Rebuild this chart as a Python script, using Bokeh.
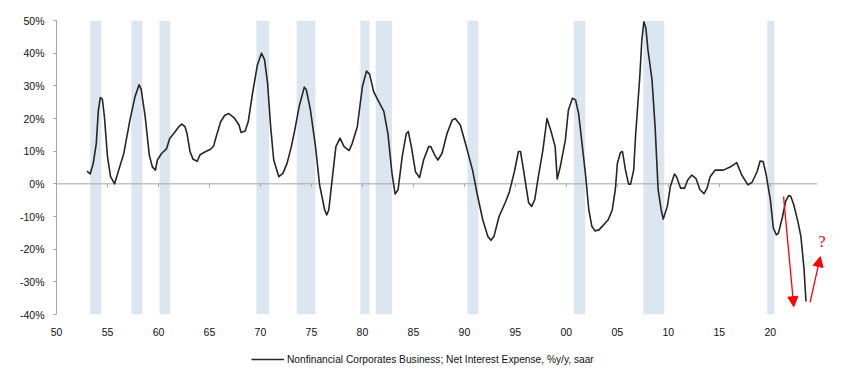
from bokeh.plotting import figure
from bokeh.layouts import column
from bokeh.models import (Range1d, FixedTicker, Legend, LegendItem, Arrow,
                          NormalHead, Label)
from bokeh.embed import file_html
from bokeh.resources import INLINE

# ---------------- data ----------------
years = [1953.0, 1953.3, 1953.6, 1953.9, 1954.1, 1954.3, 1954.5, 1954.7, 1955.0, 1955.3,
         1955.7, 1956.1, 1956.6, 1957.2, 1957.7, 1958.1, 1958.3, 1958.7, 1959.1, 1959.4,
         1959.7, 1959.9, 1960.3, 1960.8, 1961.1, 1961.5, 1962.0, 1962.3, 1962.6, 1962.8,
         1963.1, 1963.4, 1963.8, 1964.1, 1964.6, 1965.1, 1965.4, 1965.7, 1966.1, 1966.5,
         1966.9, 1967.4, 1967.9, 1968.1, 1968.5, 1968.8, 1969.2, 1969.7, 1970.1, 1970.4,
         1970.7, 1971.0, 1971.3, 1971.8, 1972.2, 1972.6, 1973.0, 1973.3, 1973.8, 1974.3,
         1974.5, 1974.9, 1975.4, 1975.8, 1976.3, 1976.5, 1976.7, 1977.1, 1977.4, 1977.8,
         1978.2, 1978.7, 1979.0, 1979.5, 1980.0, 1980.4, 1980.7, 1981.1, 1981.6, 1982.1,
         1982.5, 1982.9, 1983.2, 1983.5, 1983.9, 1984.3, 1984.5, 1984.8, 1985.2, 1985.6,
         1986.0, 1986.5, 1986.7, 1987.1, 1987.4, 1987.8, 1988.3, 1988.8, 1989.1, 1989.6,
         1990.1, 1990.8, 1991.3, 1991.8, 1992.3, 1992.6, 1992.9, 1993.4, 1994.0, 1994.4,
         1994.9, 1995.3, 1995.5, 1995.8, 1996.3, 1996.6, 1996.9, 1997.2, 1997.7, 1998.1,
         1998.5, 1998.9, 1999.1, 1999.4, 1999.9, 2000.2, 2000.6, 2000.9, 2001.2, 2001.5,
         2001.9, 2002.2, 2002.5, 2002.8, 2003.2, 2003.4, 2003.7, 2004.1, 2004.5, 2004.8,
         2005.0, 2005.3, 2005.5, 2005.8, 2006.1, 2006.3, 2006.6, 2006.8, 2007.2, 2007.4,
         2007.6, 2007.8, 2008.0, 2008.4, 2008.7, 2009.0, 2009.3, 2009.5, 2009.9, 2010.2,
         2010.6, 2010.8, 2011.2, 2011.6, 2011.9, 2012.3, 2012.7, 2013.1, 2013.5, 2013.8,
         2014.1, 2014.6, 2015.4, 2016.1, 2016.7, 2017.2, 2017.8, 2018.2, 2018.7, 2019.0,
         2019.3, 2019.6, 2020.0, 2020.3, 2020.6, 2020.8, 2021.2, 2021.5, 2021.8, 2022.0,
         2022.3, 2022.7, 2023.0, 2023.3, 2023.5]
values = [3.9, 3.0, 6.2, 12.3, 22.4, 26.4, 25.9, 20.5, 8.3, 2.2,
          0.0, 4.2, 9.3, 19.5, 26.7, 30.3, 29.0, 20.5, 8.8, 5.2,
          4.2, 7.3, 9.3, 10.8, 13.9, 15.4, 17.5, 18.3, 17.5, 15.4,
          9.8, 7.5, 6.9, 9.0, 9.8, 10.6, 11.5, 14.9, 19.0, 21.0,
          21.5, 20.3, 18.0, 15.7, 16.2, 19.0, 27.2, 36.4, 40.0, 38.0,
          30.8, 17.5, 7.3, 2.2, 3.2, 6.2, 11.0, 15.4, 23.7, 29.6,
          28.8, 22.6, 11.4, -0.3, -8.0, -9.5, -8.0, 3.2, 11.4, 14.0,
          11.4, 10.2, 12.4, 17.5, 29.8, 34.5, 33.6, 28.2, 25.2, 22.2,
          15.4, 3.2, -3.1, -1.8, 8.3, 15.4, 16.0, 11.4, 3.7, 1.9,
          7.3, 11.4, 11.4, 8.8, 7.3, 9.3, 15.4, 19.5, 20.0, 18.0,
          12.4, 4.2, -3.8, -11.0, -16.1, -17.3, -16.1, -10.0, -5.8, -2.6,
          3.7, 9.9, 9.9, 4.2, -5.8, -6.9, -4.8, 1.2, 10.4, 20.0,
          16.0, 11.4, 1.5, 5.2, 13.4, 22.6, 26.2, 25.7, 21.5, 13.4,
          2.2, -8.0, -13.0, -14.4, -14.1, -13.4, -12.4, -11.0, -8.0, -1.8,
          6.2, 9.6, 9.9, 4.2, -0.1, -0.1, 4.2, 15.4, 32.8, 44.0,
          49.6, 47.6, 41.0, 31.8, 17.5, -1.8, -8.0, -10.8, -6.9, -0.8,
          3.0, 2.2, -1.3, -1.3, 1.2, 2.7, 1.7, -1.8, -3.0, -1.3,
          2.2, 4.2, 4.2, 5.2, 6.5, 2.7, -0.3, 0.4, 3.7, 7.0,
          6.8, 2.7, -4.8, -13.6, -15.6, -15.1, -10.0, -5.4, -3.6, -3.8,
          -6.4, -11.5, -16.1, -25.8, -36.0]

rec_start = [1953.3, 1957.35, 1960.1, 1969.6, 1973.55, 1979.8, 1981.3, 1990.3, 2000.75, 2007.55, 2019.7]
rec_end = [1954.4, 1958.43, 1961.15, 1970.85, 1975.4, 1980.7, 1982.9, 1991.37, 2001.85, 2009.6, 2020.4]

x_ticks = [1950, 1955, 1960, 1965, 1970, 1975, 1980, 1985, 1990, 1995, 2000, 2005, 2010, 2015, 2020]
x_tick_labels = ["50", "55", "60", "65", "70", "75", "80", "85", "90", "95", "00", "05", "10", "15", "20"]
y_ticks = [-40, -30, -20, -10, 0, 10, 20, 30, 40, 50]
y_tick_labels = ["-40%", "-30%", "-20%", "-10%", "0%", "10%", "20%", "30%", "40%", "50%"]

series_name = "Nonfinancial Corporates Business; Net Interest Expense, %y/y, saar"
x_start, x_end = 1950, 2026
y_start, y_end = -40, 50
zero_line_end = 2024.6

arrow_down = [2021.3, -3.9, 2022.3, -37.6]
arrow_up = [2023.9, -36.3, 2024.9, -22.3]
question_pos = [2025.07, -17.7]

FONT = "Liberation Sans"
FS = "10.5px"
LINE_COLOR = "#262626"

p = figure(width=836, height=340,
           x_range=Range1d(x_start, x_end), y_range=Range1d(y_start, y_end),
           output_backend="svg", toolbar_location=None,
           min_border_left=56, min_border_top=20, min_border_right=5, min_border_bottom=26)
p.outline_line_color = None
p.xgrid.visible = False
p.ygrid.visible = False

# recession bands
p.quad(left=rec_start, right=rec_end, bottom=y_start, top=y_end,
       fill_color="#dce6f1", line_color=None)

# zero line with tick marks
p.segment(x0=[x_start], y0=[0], x1=[zero_line_end], y1=[0], line_color="#a6a6a6", line_width=1)
p.segment(x0=x_ticks[1:], y0=[0] * (len(x_ticks) - 1), x1=x_ticks[1:], y1=[-1.0] * (len(x_ticks) - 1),
          line_color="#a6a6a6", line_width=1)

p.line(years, values, line_color=LINE_COLOR, line_width=1.6, line_join="round")

# axes
p.yaxis.ticker = FixedTicker(ticks=y_ticks)
p.yaxis.major_label_overrides = {t: l for t, l in zip(y_ticks, y_tick_labels)}
p.yaxis.axis_line_color = "#a6a6a6"
p.yaxis.major_tick_line_color = "#a6a6a6"
p.yaxis.major_tick_out = 3
p.yaxis.major_tick_in = 0
p.yaxis.minor_tick_line_color = None
p.yaxis.major_label_standoff = 9
p.yaxis.major_label_text_font = FONT
p.yaxis.major_label_text_font_size = FS
p.yaxis.major_label_text_color = "#111111"

p.xaxis.ticker = FixedTicker(ticks=x_ticks)
p.xaxis.major_label_overrides = {t: l for t, l in zip(x_ticks, x_tick_labels)}
p.xaxis.axis_line_color = None
p.xaxis.major_tick_line_color = None
p.xaxis.minor_tick_line_color = None
p.xaxis.major_tick_out = 0
p.xaxis.major_tick_in = 0
p.xaxis.major_label_standoff = 13
p.xaxis.major_label_text_font = FONT
p.xaxis.major_label_text_font_size = FS
p.xaxis.major_label_text_color = "#111111"

# red arrows and question mark
for a in (arrow_down, arrow_up):
    p.add_layout(Arrow(end=NormalHead(size=10, fill_color="red", line_color="red", line_width=1),
                       x_start=a[0], y_start=a[1], x_end=a[2], y_end=a[3],
                       line_color="red", line_width=1.3))
p.add_layout(Label(x=question_pos[0], y=question_pos[1], text="?", text_color="red",
                   text_font="Liberation Serif", text_font_size="16px",
                   text_align="center", text_baseline="middle"))

# legend strip below the chart
pl = figure(width=836, height=32, x_range=Range1d(0, 1), y_range=Range1d(0, 1),
            output_backend="svg", toolbar_location=None, min_border=0)
pl.axis.visible = False
pl.xgrid.visible = False
pl.ygrid.visible = False
pl.outline_line_color = None
r_leg = pl.line(years, values, line_color=LINE_COLOR, line_width=1.6)  # lies outside the strip's range

legend = Legend(items=[LegendItem(label=series_name, renderers=[r_leg])],
                location=(195, 7), orientation="horizontal",
                border_line_color=None, background_fill_alpha=0,
                glyph_width=33, glyph_height=12, label_standoff=3,
                padding=2, margin=0, spacing=0,
                label_text_font=FONT, label_text_font_size="10.2px",
                label_text_color="#111111", label_height=12)
pl.add_layout(legend, "center")

layout = column(p, pl, spacing=0)
open("out.html", "w").write(file_html(layout, INLINE))
